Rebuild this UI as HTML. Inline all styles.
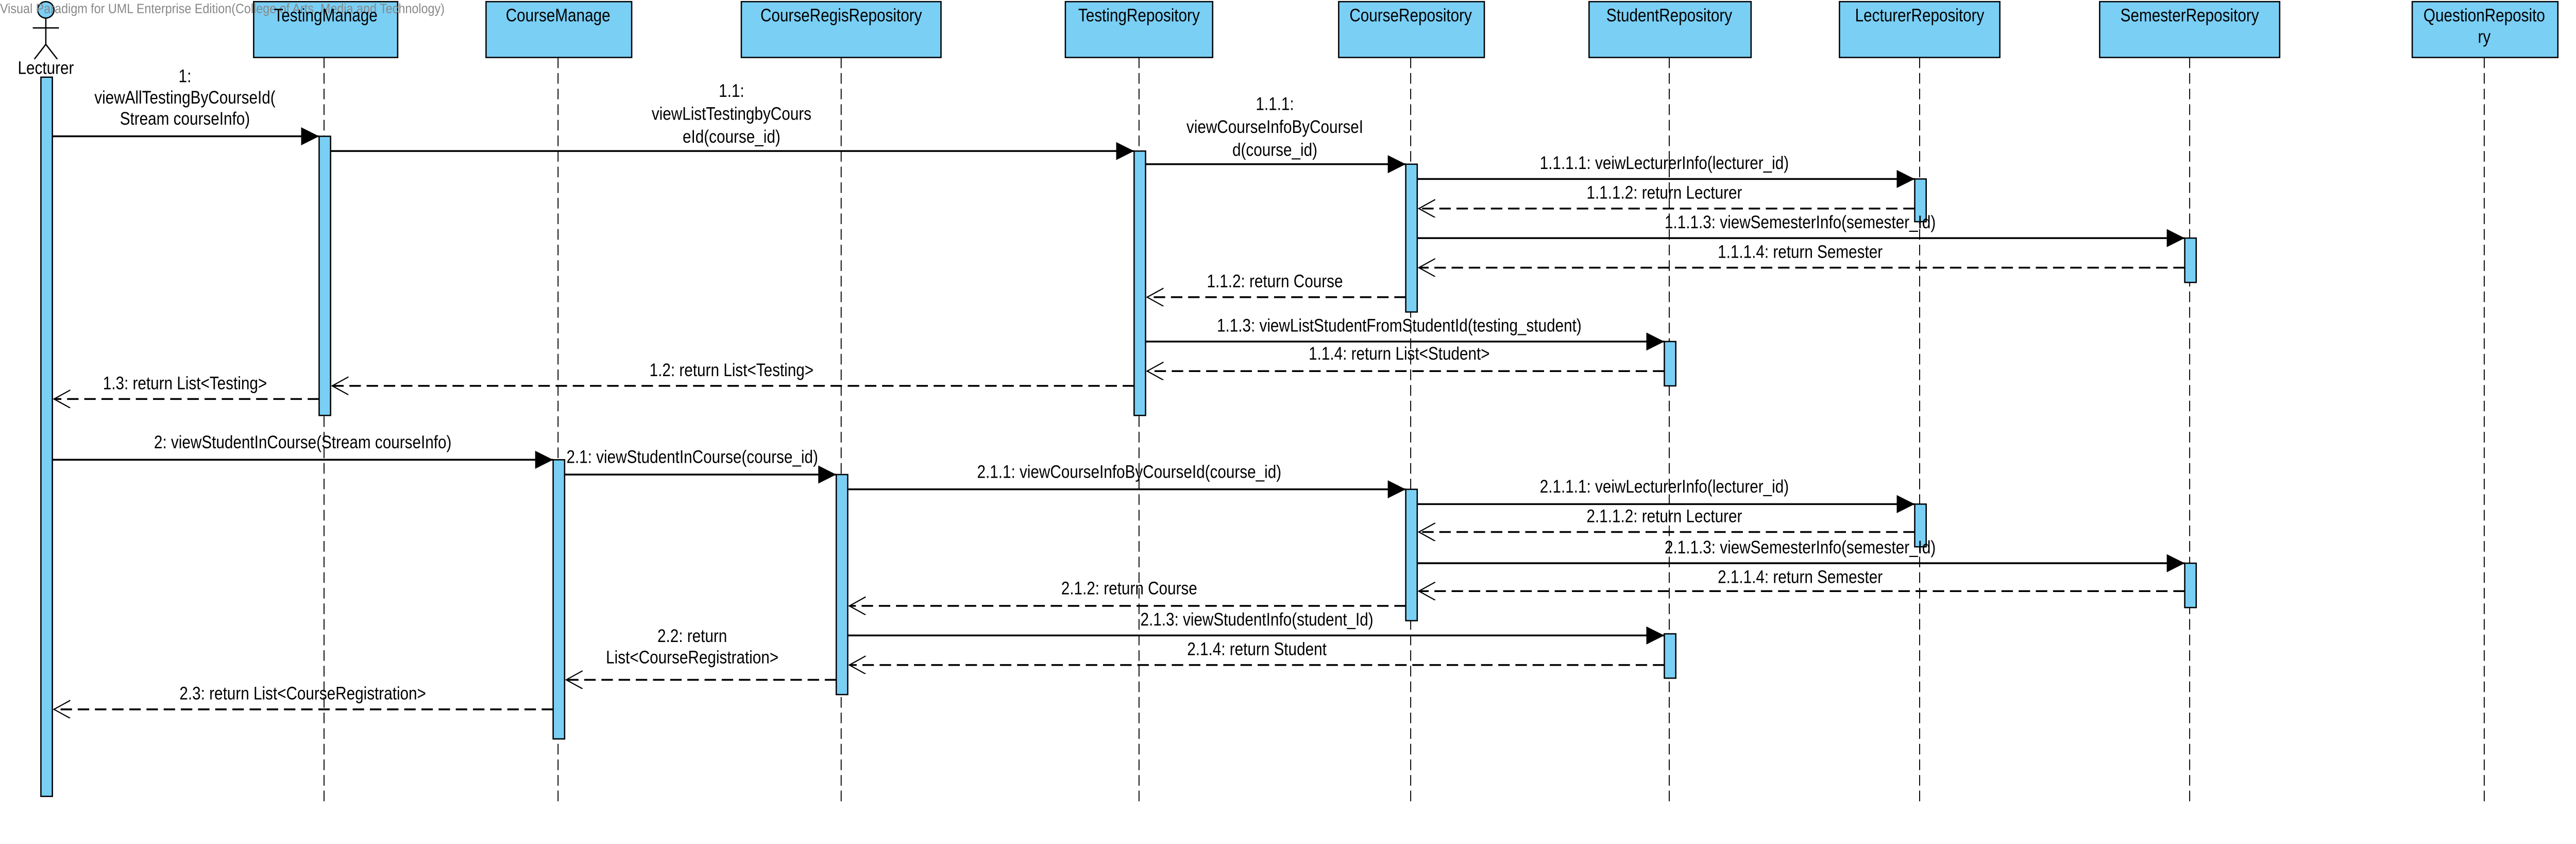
<!DOCTYPE html>
<html><head><meta charset="utf-8"><style>
html,body{margin:0;padding:0;background:#fff;}
svg{display:block;}
text{font-family:"Liberation Sans Narrow","Liberation Sans",Arial,sans-serif;font-size:11px;fill:#000;}
</style></head><body>
<svg width="5238" height="1638" viewBox="0 0 1649 514" preserveAspectRatio="none" xmlns="http://www.w3.org/2000/svg">
<defs>
<marker id="f" markerWidth="14" markerHeight="14" refX="11" refY="5.5" orient="auto" markerUnits="userSpaceOnUse"><path d="M0,0 L11,5.5 L0,11 Z" fill="#000"/></marker>
<marker id="o" markerWidth="14" markerHeight="14" refX="10" refY="5.5" orient="auto" markerUnits="userSpaceOnUse"><path d="M0,0 L10,5.5 L0,11" fill="none" stroke="#000" stroke-width="0.7"/></marker>
</defs>
<g stroke="#000" stroke-width="0.6" stroke-dasharray="6.5,3" fill="none">
<line x1="198" y1="35" x2="198" y2="490"/>
<line x1="341" y1="35" x2="341" y2="490"/>
<line x1="514" y1="35" x2="514" y2="490"/>
<line x1="696" y1="35" x2="696" y2="490"/>
<line x1="862" y1="35" x2="862" y2="490"/>
<line x1="1020" y1="35" x2="1020" y2="490"/>
<line x1="1173" y1="35" x2="1173" y2="490"/>
<line x1="1338" y1="35" x2="1338" y2="490"/>
<line x1="1518" y1="35" x2="1518" y2="490"/>
</g>
<g fill="#7acff5" stroke="#000" stroke-width="0.8">
<rect x="155" y="1" width="88" height="34"/>
<rect x="297" y="1" width="89" height="34"/>
<rect x="453" y="1" width="122" height="34"/>
<rect x="651" y="1" width="90" height="34"/>
<rect x="818" y="1" width="89" height="34"/>
<rect x="971" y="1" width="99" height="34"/>
<rect x="1124" y="1" width="98" height="34"/>
<rect x="1283" y="1" width="110" height="34"/>
<rect x="1474" y="1" width="89" height="34"/>
<rect x="25" y="47" width="7" height="438"/>
<rect x="195" y="83" width="7" height="170"/>
<rect x="693" y="92" width="7" height="161"/>
<rect x="859" y="100" width="7" height="90"/>
<rect x="1170" y="109" width="7" height="26"/>
<rect x="1335" y="145" width="7" height="27"/>
<rect x="1017" y="208" width="7" height="27"/>
<rect x="338" y="280" width="7" height="170"/>
<rect x="511" y="289" width="7" height="134"/>
<rect x="859" y="298" width="7" height="80"/>
<rect x="1170" y="307" width="7" height="26"/>
<rect x="1335" y="343" width="7" height="27"/>
<rect x="1017" y="386" width="7" height="27"/>
<circle cx="28" cy="6" r="5"/>
</g>
<g stroke="#000" stroke-width="0.8" fill="none">
<line x1="28" y1="11" x2="28" y2="27"/>
<line x1="20" y1="17" x2="36" y2="17"/>
<line x1="28" y1="27" x2="21" y2="36"/>
<line x1="28" y1="27" x2="35" y2="36"/>
</g>
<text x="0" y="8" style="font-size:8px;fill:#888" transform="scale(0.92,1)">Visual Paradigm for UML Enterprise Edition(College of Arts, Media and Technology)</text>
<g text-anchor="middle">
<text transform="translate(28,45) scale(0.85,1)">Lecturer</text>
<text transform="translate(199,13) scale(0.85,1)">TestingManage</text>
<text transform="translate(341,13) scale(0.85,1)">CourseManage</text>
<text transform="translate(514,13) scale(0.85,1)">CourseRegisRepository</text>
<text transform="translate(696,13) scale(0.85,1)">TestingRepository</text>
<text transform="translate(862,13) scale(0.85,1)">CourseRepository</text>
<text transform="translate(1020,13) scale(0.85,1)">StudentRepository</text>
<text transform="translate(1173,13) scale(0.85,1)">LecturerRepository</text>
<text transform="translate(1338,13) scale(0.85,1)">SemesterRepository</text>
<text transform="translate(1518,13) scale(0.85,1)">QuestionReposito</text>
<text transform="translate(1518,26) scale(0.85,1)">ry</text>
</g>
<g stroke="#000" stroke-width="1.1" fill="none">
<line x1="32" y1="83" x2="195" y2="83" marker-end="url(#f)"/>
<line x1="202" y1="92" x2="693" y2="92" marker-end="url(#f)"/>
<line x1="700" y1="100" x2="859" y2="100" marker-end="url(#f)"/>
<line x1="866" y1="109" x2="1170" y2="109" marker-end="url(#f)"/>
<line x1="866" y1="145" x2="1335" y2="145" marker-end="url(#f)"/>
<line x1="700" y1="208" x2="1017" y2="208" marker-end="url(#f)"/>
<line x1="32" y1="280" x2="338" y2="280" marker-end="url(#f)"/>
<line x1="345" y1="289" x2="511" y2="289" marker-end="url(#f)"/>
<line x1="518" y1="298" x2="859" y2="298" marker-end="url(#f)"/>
<line x1="866" y1="307" x2="1170" y2="307" marker-end="url(#f)"/>
<line x1="866" y1="343" x2="1335" y2="343" marker-end="url(#f)"/>
<line x1="518" y1="387" x2="1017" y2="387" marker-end="url(#f)"/>
</g>
<g stroke="#000" stroke-width="1.1" fill="none" stroke-dasharray="7,3.5">
<line x1="1170" y1="127" x2="867" y2="127" marker-end="url(#o)"/>
<line x1="1335" y1="163" x2="867" y2="163" marker-end="url(#o)"/>
<line x1="859" y1="181" x2="701" y2="181" marker-end="url(#o)"/>
<line x1="1017" y1="226" x2="701" y2="226" marker-end="url(#o)"/>
<line x1="693" y1="235" x2="203" y2="235" marker-end="url(#o)"/>
<line x1="195" y1="243" x2="33" y2="243" marker-end="url(#o)"/>
<line x1="1170" y1="324" x2="867" y2="324" marker-end="url(#o)"/>
<line x1="1335" y1="360" x2="867" y2="360" marker-end="url(#o)"/>
<line x1="859" y1="369" x2="519" y2="369" marker-end="url(#o)"/>
<line x1="1017" y1="405" x2="519" y2="405" marker-end="url(#o)"/>
<line x1="511" y1="414" x2="346" y2="414" marker-end="url(#o)"/>
<line x1="338" y1="432" x2="33" y2="432" marker-end="url(#o)"/>
</g>
<g text-anchor="middle">
<text transform="translate(113,50) scale(0.85,1)">1:</text>
<text transform="translate(113,63) scale(0.85,1)">viewAllTestingByCourseId(</text>
<text transform="translate(113,76) scale(0.85,1)">Stream courseInfo)</text>
<text transform="translate(447,59) scale(0.85,1)">1.1:</text>
<text transform="translate(447,73) scale(0.85,1)">viewListTestingbyCours</text>
<text transform="translate(447,87) scale(0.85,1)">eId(course_id)</text>
<text transform="translate(779,67) scale(0.85,1)">1.1.1:</text>
<text transform="translate(779,81) scale(0.85,1)">viewCourseInfoByCourseI</text>
<text transform="translate(779,95) scale(0.85,1)">d(course_id)</text>
<text transform="translate(1017,103) scale(0.85,1)">1.1.1.1: veiwLecturerInfo(lecturer_id)</text>
<text transform="translate(1017,121) scale(0.85,1)">1.1.1.2: return Lecturer</text>
<text transform="translate(1100,139) scale(0.85,1)">1.1.1.3: viewSemesterInfo(semester_Id)</text>
<text transform="translate(1100,157) scale(0.85,1)">1.1.1.4: return Semester</text>
<text transform="translate(779,175) scale(0.85,1)">1.1.2: return Course</text>
<text transform="translate(855,202) scale(0.85,1)">1.1.3: viewListStudentFromStudentId(testing_student)</text>
<text transform="translate(855,219) scale(0.85,1)">1.1.4: return List&lt;Student&gt;</text>
<text transform="translate(447,229) scale(0.85,1)">1.2: return List&lt;Testing&gt;</text>
<text transform="translate(113,237) scale(0.85,1)">1.3: return List&lt;Testing&gt;</text>
<text transform="translate(185,273) scale(0.85,1)">2: viewStudentInCourse(Stream courseInfo)</text>
<text transform="translate(423,282) scale(0.85,1)">2.1: viewStudentInCourse(course_id)</text>
<text transform="translate(690,291) scale(0.85,1)">2.1.1: viewCourseInfoByCourseId(course_id)</text>
<text transform="translate(1017,300) scale(0.85,1)">2.1.1.1: veiwLecturerInfo(lecturer_id)</text>
<text transform="translate(1017,318) scale(0.85,1)">2.1.1.2: return Lecturer</text>
<text transform="translate(1100,337) scale(0.85,1)">2.1.1.3: viewSemesterInfo(semester_Id)</text>
<text transform="translate(1100,355) scale(0.85,1)">2.1.1.4: return Semester</text>
<text transform="translate(690,362) scale(0.85,1)">2.1.2: return Course</text>
<text transform="translate(768,381) scale(0.85,1)">2.1.3: viewStudentInfo(student_Id)</text>
<text transform="translate(768,399) scale(0.85,1)">2.1.4: return Student</text>
<text transform="translate(423,391) scale(0.85,1)">2.2: return</text>
<text transform="translate(423,404) scale(0.85,1)">List&lt;CourseRegistration&gt;</text>
<text transform="translate(185,426) scale(0.85,1)">2.3: return List&lt;CourseRegistration&gt;</text>
</g>
</svg>
</body></html>
